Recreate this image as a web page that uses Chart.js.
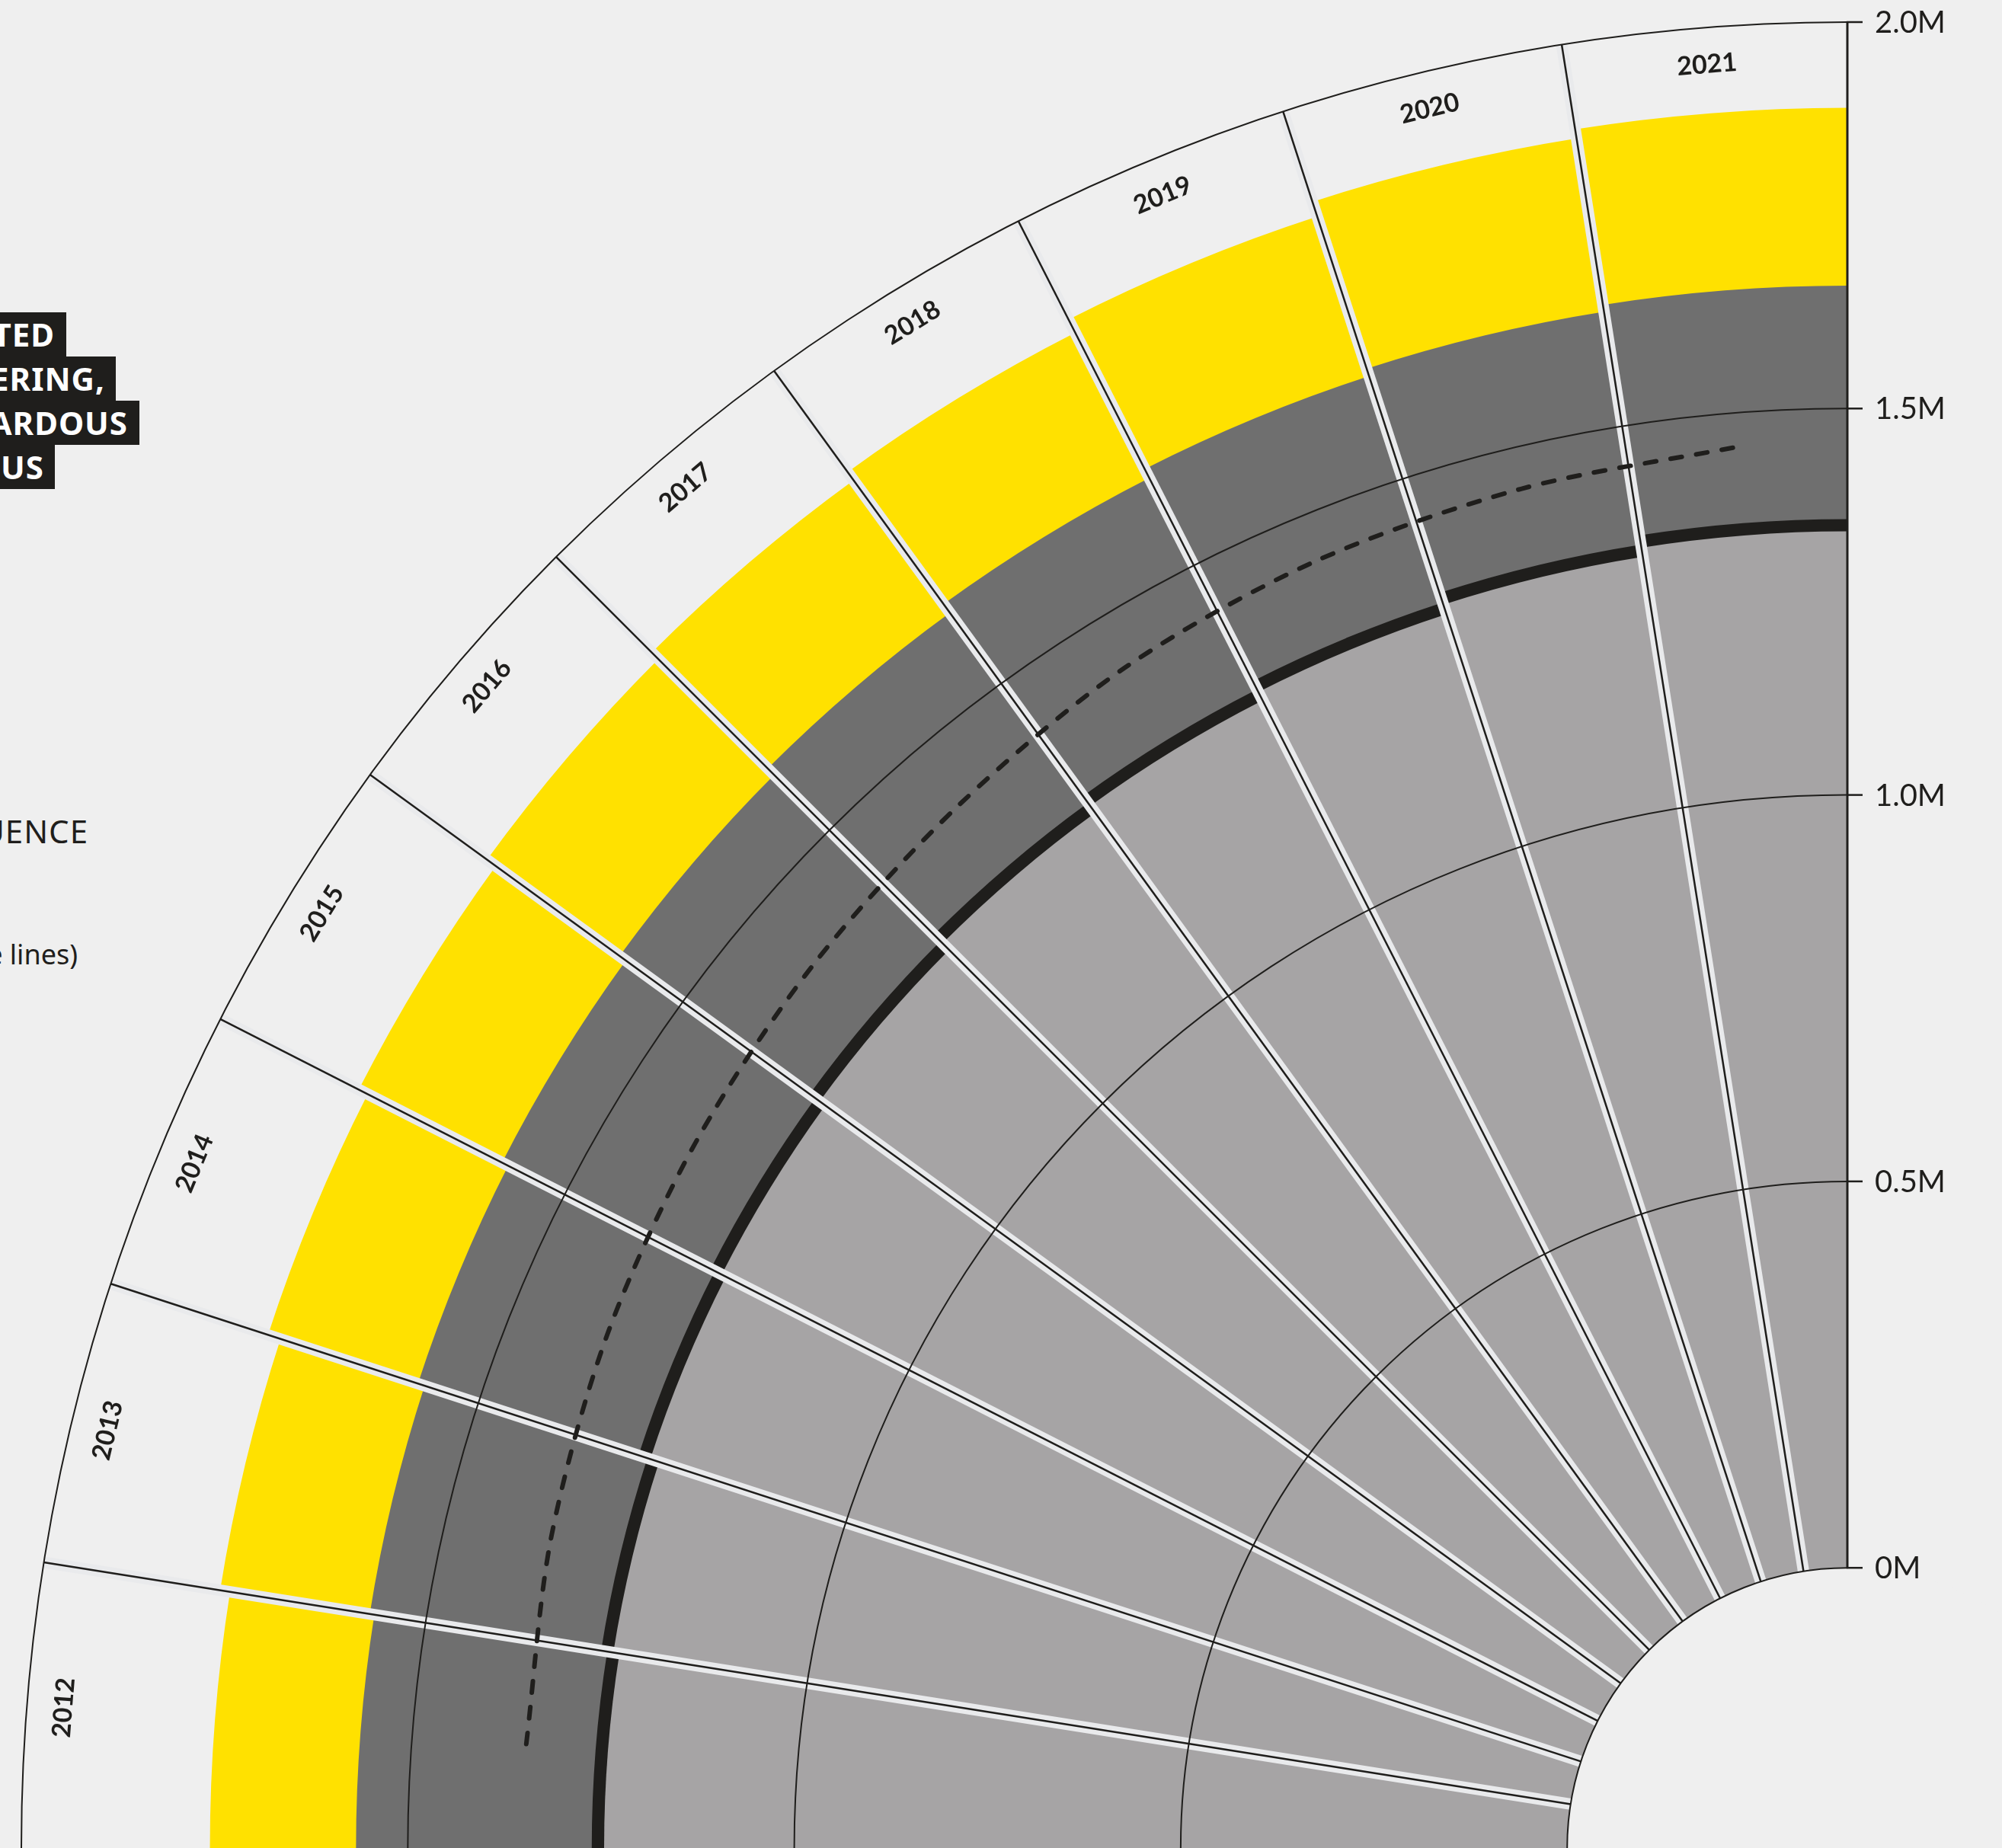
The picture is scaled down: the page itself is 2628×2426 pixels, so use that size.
<!DOCTYPE html>
<html lang="en">
<head>
  <meta charset="utf-8" />
  <title>Radial stacked bars 2012-2021</title>
  <script src="https://cdnjs.cloudflare.com/ajax/libs/Chart.js/4.4.1/chart.umd.min.js"></script>
  <style>
    html, body { margin: 0; padding: 0; }
    body {
      width: 2628px; height: 2426px; overflow: hidden; position: relative;
      background: #efefef; color: #1f1e1c;
      font-family: "Noto Sans", sans-serif;
    }
    #chart { position: absolute; left: -32px; top: -31px; }
    .tag {
      position: absolute; left: -300px; height: 58px; line-height: 58px;
      box-sizing: border-box; background: #1f1e1c; color: #fff;
      font-size: 42px; font-weight: 700; letter-spacing: 1px;
      text-align: right; white-space: nowrap;
    }
    .note { position: absolute; left: -300px; text-align: right; white-space: nowrap; }
  </style>
</head>
<body>
  <!-- cut off annotation on the left -->
  <div class="tag" style="top:410px; width:387px; padding-right:15px;">TED</div>
  <div class="tag" style="top:468px; width:452px; padding-right:14px;">ERING,</div>
  <div class="tag" style="top:526px; width:483px; padding-right:15px;">ARDOUS</div>
  <div class="tag" style="top:584px; width:372px; padding-right:14px;">US</div>
  <div class="note" style="top:1070px; width:416px; font-size:42px; line-height:42px; letter-spacing:1px;">UENCE</div>
  <div class="note" style="top:1235px; width:402px; font-size:36px; line-height:36px;">e lines)</div>

  <canvas id="chart" width="4914" height="4914"></canvas>

  <script>
    // data, stacked from the centre outwards
    const years = ['2012', '2013', '2014', '2015', '2016', '2017', '2018', '2019', '2020', '2021'];
    const lightGrey = [1246000, 1254000, 1266000, 1272000, 1281000, 1293000, 1304000, 1316000, 1329000, 1341000];
    const blackBand = [16000, 16000, 16000, 16000, 16000, 16000, 16000, 16000, 16000, 16000];
    const darkGrey  = [305000, 303000, 300000, 303000, 304000, 304000, 307000, 308000, 305000, 302000];
    const yellow    = [189000, 196000, 204000, 208000, 212000, 212000, 211000, 217000, 227000, 230000];
    const dashed    = [1352000, 1362000, 1374000, 1385000, 1397000, 1410000, 1428000, 1439000, 1446000, 1456000];
    const tickValues = [0, 500000, 1000000, 1500000, 2000000];
    const tickLabels = ['0M', '0.5M', '1.0M', '1.5M', '2.0M'];

    const BG = '#efefef';
    const INK = '#1f1e1c';
    const SCALE_MIN = -362500;   // leaves the empty hole in the middle
    const SCALE_MAX = 2000000;
    const YEAR_LABEL_AT = 1952000;

    // cumulative tops for the overlaid polar layers
    function stackTo(arrs) {
      return years.map((_, i) => arrs.reduce((s, a) => s + a[i], 0));
    }
    const topLight  = stackTo([lightGrey]);
    const topBlack  = stackTo([lightGrey, blackBand]);
    const topDark   = stackTo([lightGrey, blackBand, darkGrey]);
    const topYellow = stackTo([lightGrey, blackBand, darkGrey, yellow]);

    // 40 slots of 9 degrees, slot 0 is a spacer so the radar points land mid-bar
    const slots = [''].concat(years);
    while (slots.length < 40) slots.push('');

    function band(label, tops, color, order) {
      return {
        label: label,
        data: [0].concat(tops),
        backgroundColor: ['rgba(0,0,0,0)'].concat(years.map(() => color)),
        borderWidth: 0,
        angle: (c) => c.dataIndex === 0 ? 4.5 : 9,
        order: order
      };
    }

    const quadrantPlugin = {
      id: 'quadrant',
      beforeDatasetDraw(chart, args) {
        if (args.meta.type !== 'radar') return;
        const ctx = chart.ctx;
        const sc = chart.scales.r;
        const cx = sc.xCenter, cy = sc.yCenter;
        const r0 = sc.getDistanceFromCenterForValue(0);
        const rMax = sc.getDistanceFromCenterForValue(SCALE_MAX);
        const arcs = chart.getDatasetMeta(0).data;

        ctx.save();
        // hole
        ctx.fillStyle = BG;
        ctx.beginPath();
        ctx.arc(cx, cy, r0, 0, Math.PI * 2);
        ctx.fill();

        // separators between the years
        for (let k = 2; k < arcs.length; k++) {
          const a = arcs[k].startAngle;
          const x1 = cx + Math.cos(a) * r0, y1 = cy + Math.sin(a) * r0;
          const x2 = cx + Math.cos(a) * rMax, y2 = cy + Math.sin(a) * rMax;
          ctx.lineCap = 'butt';
          ctx.strokeStyle = '#e9eaec';
          ctx.lineWidth = 15;
          ctx.beginPath(); ctx.moveTo(x1, y1); ctx.lineTo(x2, y2); ctx.stroke();
          ctx.strokeStyle = INK;
          ctx.lineWidth = 2.5;
          ctx.beginPath(); ctx.moveTo(x1, y1); ctx.lineTo(x2, y2); ctx.stroke();
        }

        // grid arcs, only over the quarter that holds the bars
        const a0 = arcs[1].startAngle, a1 = arcs[arcs.length - 1].endAngle;
        ctx.strokeStyle = INK;
        ctx.lineWidth = 2;
        tickValues.forEach((v) => {
          ctx.beginPath();
          ctx.arc(cx, cy, sc.getDistanceFromCenterForValue(v), a0, a1);
          ctx.stroke();
        });
        ctx.restore();
      },
      afterDraw(chart) {
        const ctx = chart.ctx;
        const sc = chart.scales.r;
        const cx = sc.xCenter, cy = sc.yCenter;
        const arcs = chart.getDatasetMeta(0).data;

        ctx.save();
        // vertical axis with ticks
        ctx.strokeStyle = INK;
        ctx.lineWidth = 3;
        ctx.beginPath();
        ctx.moveTo(cx, cy - sc.getDistanceFromCenterForValue(0));
        ctx.lineTo(cx, cy - sc.getDistanceFromCenterForValue(SCALE_MAX));
        ctx.stroke();
        ctx.fillStyle = INK;
        ctx.font = '40px Lato';
        ctx.textAlign = 'left';
        ctx.textBaseline = 'middle';
        tickValues.forEach((v, i) => {
          const y = cy - sc.getDistanceFromCenterForValue(v);
          ctx.lineWidth = 2.5;
          ctx.beginPath(); ctx.moveTo(cx - 1, y); ctx.lineTo(cx + 20, y); ctx.stroke();
          ctx.fillText(tickLabels[i], cx + 36, y + 1);
        });

        // year labels round the outside
        const rl = sc.getDistanceFromCenterForValue(YEAR_LABEL_AT);
        ctx.font = 'bold 34px Lato';
        ctx.textAlign = 'center';
        for (let k = 1; k < arcs.length; k++) {
          const m = (arcs[k].startAngle + arcs[k].endAngle) / 2;
          ctx.save();
          ctx.translate(cx + Math.cos(m) * rl, cy + Math.sin(m) * rl);
          ctx.rotate(m + Math.PI / 2);
          ctx.fillText(years[k - 1], 0, 0);
          ctx.restore();
        }
        ctx.restore();
      }
    };

    const chart = new Chart(document.getElementById('chart'), {
      type: 'polarArea',
      data: {
        labels: slots,
        datasets: [
          band('yellow', topYellow, '#ffe100', 4),
          band('dark grey', topDark, '#6f6f6f', 3),
          band('black', topBlack, '#1f1e1c', 2),
          band('light grey', topLight, '#a6a4a5', 1),
          {
            type: 'radar',
            label: 'dashed',
            data: [null].concat(dashed),
            borderColor: INK,
            borderWidth: 6,
            borderDash: [15, 19],
            borderCapStyle: 'round',
            pointRadius: 0,
            fill: false,
            tension: 0.3,
            order: 0
          }
        ]
      },
      options: {
        responsive: false,
        animation: false,
        devicePixelRatio: 1,
        events: [],
        layout: { padding: 60 },
        plugins: { legend: { display: false }, tooltip: { enabled: false } },
        scales: {
          r: {
            min: SCALE_MIN,
            max: SCALE_MAX,
            startAngle: 265.5,
            ticks: { display: false, stepSize: 500000 },
            grid: { display: false },
            angleLines: { display: false },
            pointLabels: { display: false }
          }
        }
      },
      plugins: [quadrantPlugin]
    });
  </script>
</body>
</html>
